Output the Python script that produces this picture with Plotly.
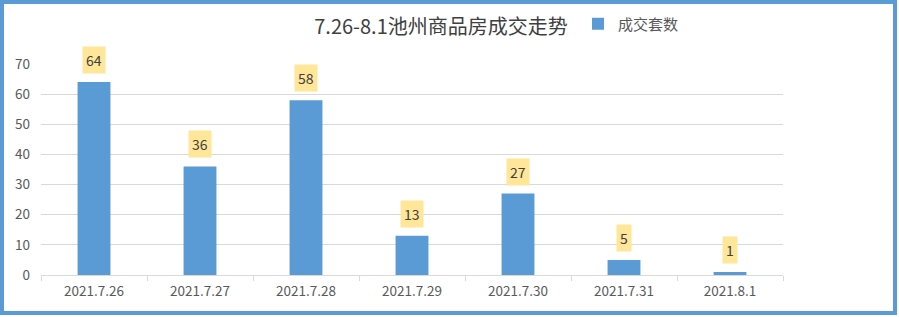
import plotly.graph_objects as go

categories = ["2021.7.26", "2021.7.27", "2021.7.28", "2021.7.29", "2021.7.30", "2021.7.31", "2021.8.1"]
values = [64, 36, 58, 13, 27, 5, 1]
series_name = "成交套数"
title_text = "7.26-8.1池州商品房成交走势"
y_ticks = [0, 10, 20, 30, 40, 50, 60, 70]

W, H = 899, 317
L, R, T, B = 41, 116, 64, 42
pw, ph = W - L - R, H - T - B

FONT = "Noto Sans CJK SC, Microsoft YaHei, sans-serif"

fig = go.Figure()
fig.add_trace(go.Bar(
    x=categories, y=values, name=series_name,
    marker=dict(color="#5b9bd5", line=dict(width=0)),
))

for c, v in zip(categories, values):
    fig.add_annotation(
        x=c, y=v, xref="x", yref="y", text=str(v), showarrow=False,
        yanchor="bottom", yshift=8, bgcolor="#ffe699", borderpad=3,
        font=dict(family=FONT, size=14, color="#404040"),
    )

def px_x(p):
    return (p - L) / pw

def px_y(p):
    return (H - B - p) / ph

fig.add_shape(type="rect", xref="paper", yref="paper",
              x0=px_x(2), x1=px_x(895), y0=px_y(313), y1=px_y(2),
              line=dict(color="#5b9bd5", width=4), fillcolor="rgba(0,0,0,0)", layer="above")

fig.update_layout(
    width=W, height=H,
    margin=dict(l=L, r=R, t=T, b=B, autoexpand=False),
    paper_bgcolor="white", plot_bgcolor="white",
    bargap=0.69,
    title=dict(text=title_text, xref="paper", x=px_x(441), xanchor="center",
               yref="container", y=1 - 27 / H, yanchor="middle",
               font=dict(family=FONT, size=20, color="#404040")),
    showlegend=True,
    legend=dict(x=px_x(578), y=px_y(24), xanchor="left", yanchor="middle",
                orientation="h", bgcolor="rgba(0,0,0,0)",
                font=dict(family=FONT, size=15, color="#595959"),
                itemwidth=30),
    xaxis=dict(showline=True, linecolor="#d9d9d9", linewidth=1,
               ticks="outside", tickson="boundaries", tickcolor="#d9d9d9", ticklen=5,
               tickfont=dict(family=FONT, size=13.5, color="#595959"),
               ticklabelstandoff=4, showgrid=False),
    yaxis=dict(range=[0, 70], tickvals=y_ticks, showgrid=True, gridcolor="#d9d9d9",
               zeroline=False, showline=False,
               tickfont=dict(family=FONT, size=13.5, color="#595959"),
               ticklabelstandoff=10),
)

fig.write_html("out.html")
